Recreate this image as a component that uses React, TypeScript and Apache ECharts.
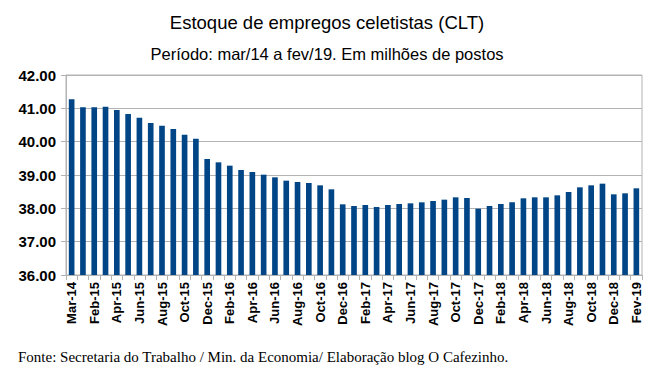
import React, { useEffect, useRef } from "react";
import * as echarts from "echarts";

const categories: string[] = [
  "Mar-14", "Jan-15", "Feb-15", "Mar-15", "Apr-15", "May-15", "Jun-15", "Jul-15", "Aug-15", "Sep-15", "Oct-15", "Nov-15", "Dec-15",
  "Jan-16", "Feb-16", "Mar-16", "Apr-16", "May-16", "Jun-16", "Jul-16", "Aug-16", "Sep-16", "Oct-16", "Nov-16", "Dec-16",
  "Jan-17", "Feb-17", "Mar-17", "Apr-17", "May-17", "Jun-17", "Jul-17", "Aug-17", "Sep-17", "Oct-17", "Nov-17", "Dec-17",
  "Jan-18", "Feb-18", "Mar-18", "Apr-18", "May-18", "Jun-18", "Jul-18", "Aug-18", "Sep-18", "Oct-18", "Nov-18", "Dec-18",
  "Jan-19", "Fev-19",
];

const values: number[] = [
  41.27, 41.03, 41.03, 41.05, 40.95, 40.83, 40.72, 40.56, 40.48, 40.38, 40.21, 40.09, 39.48,
  39.38, 39.28, 39.15, 39.09, 39.01, 38.93, 38.83, 38.79, 38.76, 38.69, 38.57, 38.12,
  38.07, 38.10, 38.04, 38.10, 38.13, 38.15, 38.18, 38.22, 38.26, 38.33, 38.31, 37.99,
  38.07, 38.13, 38.18, 38.30, 38.33, 38.33, 38.39, 38.49, 38.63, 38.69, 38.74, 38.42,
  38.45, 38.60,
];

const titleText = "Estoque de empregos celetistas (CLT)";
const subtitleText = "Período: mar/14 a fev/19. Em milhões de postos";
const footerText = "Fonte: Secretaria do Trabalho / Min. da Economia/ Elaboração blog O Cafezinho.";

export default function App() {
  const ref = useRef<HTMLDivElement>(null);
  useEffect(() => {
    if (!ref.current) return;
    const chart = echarts.init(ref.current, undefined, { renderer: "svg" });
    const gray = "#b3b3b3";
    chart.setOption({
      animation: false,
      backgroundColor: "#ffffff",
      title: [
        {
          text: titleText,
          left: "center",
          top: 8,
          textStyle: { fontFamily: "Liberation Sans", fontSize: 18.5, fontWeight: "normal", color: "#000" },
        },
        {
          text: subtitleText,
          left: "center",
          top: 40,
          textStyle: { fontFamily: "Liberation Sans", fontSize: 16.5, fontWeight: "normal", color: "#000" },
        },
      ],
      graphic: [
        {
          type: "text",
          left: 18,
          top: 349,
          style: { text: footerText, font: "15px 'Liberation Serif'", fill: "#000" },
        },
      ],
      grid: {
        left: 66,
        right: 12,
        top: 75,
        bottom: 98,
        show: true,
        borderColor: gray,
        borderWidth: 1,
        containLabel: false,
      },
      xAxis: {
        type: "category",
        data: categories,
        boundaryGap: true,
        axisLine: { show: true, lineStyle: { color: gray } },
        axisTick: { show: true, interval: 0, length: 5, lineStyle: { color: gray } },
        axisLabel: {
          interval: 1,
          rotate: 90,
          fontFamily: "Liberation Sans",
          fontWeight: "bold",
          fontSize: 13,
          color: "#000",
          margin: 7,
        },
      },
      yAxis: {
        type: "value",
        min: 36,
        max: 42,
        interval: 1,
        axisLine: { show: true, lineStyle: { color: gray } },
        axisTick: { show: true, length: 5, lineStyle: { color: gray } },
        splitLine: { show: true, lineStyle: { color: gray } },
        axisLabel: {
          formatter: (v: number) => v.toFixed(2),
          fontFamily: "Liberation Sans",
          fontWeight: "bold",
          fontSize: 15,
          color: "#000",
          margin: 10,
        },
      },
      series: [
        {
          type: "bar",
          data: values,
          barCategoryGap: "50%",
          itemStyle: { color: "#004586" },
        },
      ],
    });
    return () => chart.dispose();
  }, []);
  return (
    <div
      ref={ref}
      style={{ position: "fixed", left: 0, top: 0, width: 654, height: 373 }}
    />
  );
}
